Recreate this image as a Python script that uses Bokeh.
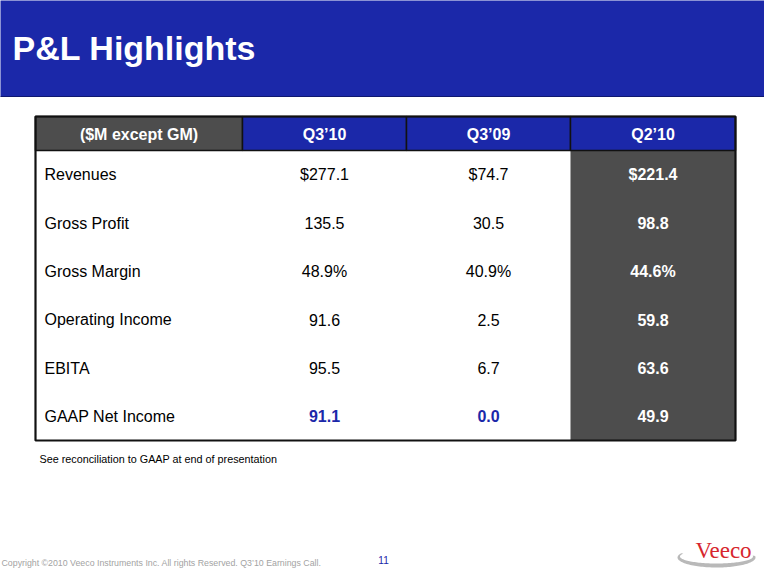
import numpy as np
from bokeh.plotting import figure
from bokeh.models import Range1d, ColumnDataSource
from bokeh.core.properties import value
from bokeh.embed import file_html
from bokeh.resources import INLINE

# ---------------- data ----------------
title = "P&L Highlights"
columns = ["($M except GM)", "Q3’10", "Q3’09", "Q2’10"]
rows = ["Revenues", "Gross Profit", "Gross Margin", "Operating Income", "EBITA", "GAAP Net Income"]
q3_10 = [277.1, 135.5, 48.9, 91.6, 95.5, 91.1]
q3_09 = [74.7, 30.5, 40.9, 2.5, 6.7, 0.0]
q2_10 = [221.4, 98.8, 44.6, 59.8, 63.6, 49.9]
prefixes = ["$", "", "", "", "", ""]
suffixes = ["", "", "%", "", "", ""]
footnote = "See reconciliation to GAAP at end of presentation"
copyright_text = "Copyright ©2010 Veeco Instruments Inc. All rights Reserved. Q3’10 Earnings Call."
page_number = "11"
logo_text = "Veeco"

# ---------------- style / layout ----------------
BLUE = "#1b28a9"
GRAY = "#4d4d4d"
SANS = value("Liberation Sans")
SERIF = value("Liberation Serif")

col_edges = [43, 250, 414, 578, 743]
header_top, header_bot, body_bot = 124, 158, 448
row_h = (body_bot - header_bot) / len(rows)

p = figure(width=764, height=569, x_range=Range1d(8, 772), y_range=Range1d(577, 8),
           output_backend="svg", toolbar_location=None,
           x_axis_location=None, y_axis_location=None, min_border=0)
p.grid.visible = False
p.outline_line_color = None
p.background_fill_color = "white"
p.border_fill_color = "white"

# title band
p.quad(left=[0], right=[780], top=[0], bottom=[104], fill_color=BLUE, line_color="#0f1870", line_width=1)
p.text(x=[20], y=[55], text=[title], text_font=SANS, text_font_style="bold",
       text_font_size="34px", text_color="white", text_baseline="alphabetic", text_align="left")

# table body backgrounds
p.quad(left=[col_edges[0]], right=[col_edges[3]], top=[header_bot], bottom=[body_bot],
       fill_color="white", line_color=None)
p.quad(left=[col_edges[3]], right=[col_edges[4]], top=[header_bot], bottom=[body_bot],
       fill_color=GRAY, line_color=None)

# header cells
hdr = ColumnDataSource(dict(
    left=col_edges[:-1], right=col_edges[1:],
    top=[header_top] * 4, bottom=[header_bot] * 4,
    fill=[GRAY, BLUE, BLUE, BLUE],
    cx=[(a + b) / 2 for a, b in zip(col_edges[:-1], col_edges[1:])],
    cy=[(header_top + header_bot) / 2 + 1] * 4,
    label=columns,
))
p.quad(left="left", right="right", top="top", bottom="bottom", fill_color="fill",
       line_color="#111111", line_width=1.5, source=hdr)
p.text(x="cx", y="cy", text="label", source=hdr, text_font=SANS, text_font_style="bold",
       text_font_size="16px", text_color="white", text_align="center", text_baseline="middle")

# outer border
p.quad(left=[col_edges[0]], right=[col_edges[4]], top=[header_top], bottom=[body_bot],
       fill_color=None, line_color="#111111", line_width=2.2)

# row labels
row_y = [header_bot + row_h * (i + 0.5) for i in range(len(rows))]
p.text(x=[52] * len(rows), y=row_y, text=rows, text_font=SANS, text_font_size="16px",
       text_color="black", text_align="left", text_baseline="middle")

# values
def fmt(v, pre, suf):
    return f"{pre}{v:.1f}{suf}"

series = [q3_10, q3_09, q2_10]
for j, vals in enumerate(series):
    cx = (col_edges[j + 1] + col_edges[j + 2]) / 2
    texts = [fmt(v, pre, suf) for v, pre, suf in zip(vals, prefixes, suffixes)]
    if j == 2:
        colors = ["white"] * len(vals)
        styles = ["bold"] * len(vals)
    else:
        colors = ["black"] * (len(vals) - 1) + [BLUE]
        styles = ["normal"] * (len(vals) - 1) + ["bold"]
    src = ColumnDataSource(dict(x=[cx] * len(vals), y=row_y, t=texts, c=colors, s=styles))
    p.text(x="x", y="y", text="t", source=src, text_font=SANS, text_font_style="s",
           text_font_size="16px", text_color="c", text_align="center", text_baseline="middle")

# footnote
p.text(x=[47], y=[466], text=[footnote], text_font=SANS, text_font_size="10.8px",
       text_color="black", text_align="left", text_baseline="middle")

# footer
p.text(x=[9], y=[570], text=[copyright_text], text_font=SANS, text_font_size="8.8px",
       text_color="#a3a3a3", text_align="left", text_baseline="middle")
p.text(x=[391], y=[567], text=[page_number], text_font=SANS, text_font_size="10px",
       text_color=BLUE, text_align="center", text_baseline="middle")

# logo swoosh
cx0, cy0 = 724, 565
t_out = np.radians(np.linspace(205, -8, 80))
t_in = t_out[::-1]
xs = list(cx0 + 39 * np.cos(t_out)) + list(cx0 + 36.5 * np.cos(t_in))
ys = list(cy0 + 10 * np.sin(t_out)) + list(cy0 - 1 + 7 * np.sin(t_in))
p.patch(x=xs, y=ys, fill_color="#b9b9b9", line_color=None)
p.text(x=[731], y=[558], text=[logo_text], text_font=SERIF, text_font_size="23px",
       text_color="#d7262e", text_align="center", text_baseline="middle")

open("out.html", "w").write(file_html(p, INLINE))
